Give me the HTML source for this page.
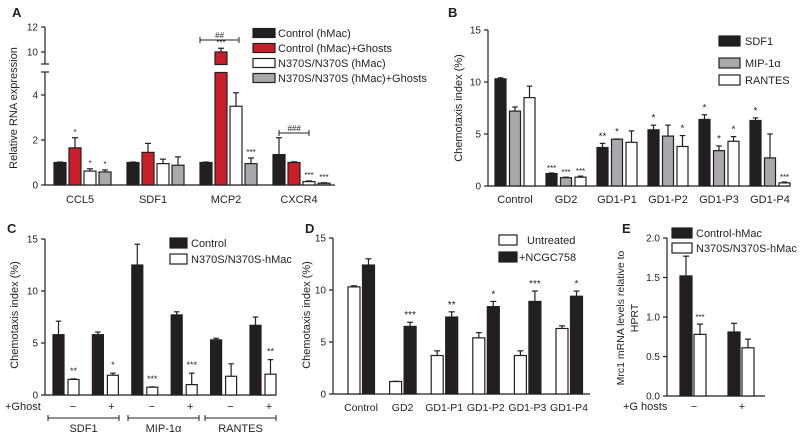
<!DOCTYPE html>
<html><head><meta charset="utf-8">
<style>
html,body{margin:0;padding:0;background:#fff;}
svg{display:block;font-family:"Liberation Sans",sans-serif;}
text{fill:#231f20;}
</style></head>
<body>
<svg id="fig" width="800" height="438" viewBox="0 0 800 438" xmlns="http://www.w3.org/2000/svg"></svg>
<script>
// ---------- Panel A data ----------
const aCats = ["CCL5","SDF1","MCP2","CXCR4"];
const aCtrl = [1, 1, 1, 1.35];
const aCtrlErr = [1.02, 1.02, 1.02, 2.1];
const aCtrlG = [1.65, 1.45, 10, 1.0];
const aCtrlGErr = [2.1, 1.85, 10.3, 1.03];
const aMut = [0.62, 0.95, 3.5, 0.15];
const aMutErr = [0.72, 1.15, 4.1, 0.18];
const aMutG = [0.58, 0.88, 0.95, 0.08];
const aMutGErr = [0.67, 1.25, 1.2, 0.1];
const aStars = [["","*","*","*"],["","","",""],["","***","","***"],["","","***","***"]];
const aTicks = [0,2,4,10,12];
// ---------- Panel B data ----------
const bCats = ["Control","GD2","GD1-P1","GD1-P2","GD1-P3","GD1-P4"];
const bSdf = [10.3,1.2,3.7,5.4,6.4,6.3];
const bSdfErr = [10.4,1.25,4.1,5.85,6.85,6.55];
const bMip = [7.2,0.8,4.5,4.8,3.4,2.7];
const bMipErr = [7.6,0.85,4.52,5.85,3.85,5.0];
const bRan = [8.5,0.85,4.2,3.8,4.3,0.3];
const bRanErr = [9.6,0.95,5.3,4.85,4.75,0.38];
const bStars = [["","",""],["***","***","***"],["**","*",""],["*","","*"],["*","*","*"],["*","","***"]];
const bTicks = [0,5,10,15];
// ---------- Panel C data ----------
const cCats = ["SDF1-","SDF1+","MIP-","MIP+","RANTES-","RANTES+"];
const cCtrl = [5.8,5.8,12.5,7.7,5.3,6.7];
const cCtrlErr = [7.1,6.05,14.5,8.0,5.45,7.5];
const cMut = [1.5,1.9,0.75,1.0,1.8,2.0];
const cMutErr = [1.55,2.1,0.78,2.1,3.0,3.4];
const cStars = ["**","*","***","***","","**"];
const cTicks = [0,5,10,15];
// ---------- Panel D data ----------
const dCats = ["Control","GD2","GD1-P1","GD1-P2","GD1-P3","GD1-P4"];
const dUnt = [10.3,1.2,3.7,5.4,3.7,6.3];
const dUntErr = [10.4,1.22,4.15,5.9,4.15,6.55];
const dTrt = [12.4,6.5,7.4,8.4,8.9,9.4];
const dTrtErr = [13.0,6.9,7.9,8.9,9.9,9.9];
const dStars = ["","***","**","*","***","*"];
const dTicks = [0,5,10,15];
// ---------- Panel E data ----------
const eCats = ["-","+"];
const eCtrl = [1.52,0.81];
const eCtrlErr = [1.77,0.92];
const eMut = [0.78,0.61];
const eMutErr = [0.91,0.72];
const eStars = [["","***"],["",""]];
const eTicks = ["0.0","0.5","1.0","1.5","2.0"];

const NS="http://www.w3.org/2000/svg";
const svg=document.getElementById('fig');
function mk(tag,attrs,parent){const e=document.createElementNS(NS,tag);for(const k in attrs)e.setAttribute(k,attrs[k]);(parent||svg).appendChild(e);return e;}
function txt(x,y,s,size,anchor,parent,extra){const t=mk('text',Object.assign({x:x,y:y,'font-size':size,'text-anchor':anchor||'middle'},extra||{}),parent);t.textContent=s;return t;}
function group(name){const g=mk('g',{});return g;}
function bar(g,x,w,yTop,yBot,fill,name){const r=mk('rect',{x:x,y:Math.min(yTop,yBot),width:w,height:Math.abs(yBot-yTop),fill:fill,stroke:'#231f20','stroke-width':1.2},g);return r;}
function err(g,x,w,yTop,yErr){const cx=x+w/2;mk('line',{x1:cx,x2:cx,y1:yTop,y2:yErr,stroke:'#231f20','stroke-width':1.2},g);mk('line',{x1:cx-w/4,x2:cx+w/4,y1:yErr,y2:yErr,stroke:'#231f20','stroke-width':1.2},g);}
function yaxis(g,x,yTop,yBot){mk('line',{x1:x,x2:x,y1:yTop,y2:yBot,stroke:'#231f20','stroke-width':1.2},g);}
function ytick(g,x,y,label,size){mk('line',{x1:x-4,x2:x,y1:y,y2:y,stroke:'#231f20','stroke-width':1.2},g);txt(x-7,y+3.5,label,size||10,'end',g);}
function legendBox(g,x,y,w,h,fill,label,tx,size){const r=mk('rect',{x:x,y:y-h/2,width:w,height:h,fill:fill,stroke:'#231f20','stroke-width':1.2},g);const t=txt(tx,y+4,label,size||11,'start',g);}
const RED="#c8202a",GRAY="#a7a9ac",BLK="#231f20",WHT="#fff";

// ================= Panel A =================
(function(){
const g=group('panel-a');
txt(12,17,'A',13,'start',g,{'font-weight':'bold'});
const yA=v=> v<=5 ? 185-v*22.5 : 52-(v-10)*12.5;
const ax=45;
yaxis(g,ax,72,185);yaxis(g,ax,27,64);
mk('line',{x1:ax-4,x2:ax+4,y1:64,y2:64,stroke:BLK,'stroke-width':1.2},g);
mk('line',{x1:ax-4,x2:ax+4,y1:72,y2:72,stroke:BLK,'stroke-width':1.2},g);
mk('line',{x1:ax,x2:335,y1:185,y2:185,stroke:BLK,'stroke-width':1.2},g);
aTicks.forEach(v=>ytick(g,ax,yA(v),String(v)));
const yl=txt(17,108,'Relative RNA expression',11,'middle',g,{transform:'rotate(-90 17 108)'});

const series=[[aCtrl,aCtrlErr,BLK],[aCtrlG,aCtrlGErr,RED],[aMut,aMutErr,WHT],[aMutG,aMutGErr,GRAY]];
const bw=12,step=15,gstep=73,x0=54;
aCats.forEach((c,i)=>{
  series.forEach((s,j)=>{
    const x=x0+i*gstep+j*step, v=s[0][i];
    if(v>5){bar(g,x,bw,yA(5),185,s[2],'bar-'+c.toLowerCase()+'-'+j);bar(g,x,bw,yA(v),yA(9),s[2],'bar-'+c.toLowerCase()+'-'+j+'-top');}
    else bar(g,x,bw,yA(v),185,s[2],'bar-'+c.toLowerCase()+'-'+j);
    err(g,x,bw,yA(v),yA(s[1][i]));
    if(aStars[i][j])txt(x+bw/2,yA(s[1][i])-3,aStars[i][j],8,'middle',g);
  });
  const l=txt(x0+i*gstep+26,203,c,11,'middle',g);
});
[[200,239,40,'##'],[279,309,133,'###']].forEach(b=>{
  mk('line',{x1:b[0],x2:b[1],y1:b[2],y2:b[2],stroke:BLK,'stroke-width':1},g);
  mk('line',{x1:b[0],x2:b[0],y1:b[2]-3,y2:b[2]+3,stroke:BLK,'stroke-width':1},g);
  mk('line',{x1:b[1],x2:b[1],y1:b[2]-3,y2:b[2]+3,stroke:BLK,'stroke-width':1},g);
  txt((b[0]+b[1])/2,b[2]-2,b[3],8,'middle',g,{'font-style':'italic'});
});
const lg=group('legend-a');
legendBox(lg,253,33,22,9,BLK,'Control (hMac)',278);
legendBox(lg,253,48,22,9,RED,'Control (hMac)+Ghosts',278);
legendBox(lg,253,63,22,9,WHT,'N370S/N370S (hMac)',278);
legendBox(lg,253,78,22,9,GRAY,'N370S/N370S (hMac)+Ghosts',278);
})();

// ================= Panel B =================
(function(){
const g=group('panel-b');
txt(448,17,'B',13,'start',g,{'font-weight':'bold'});
const ax=488, yB=v=>186-v*10.4;
yaxis(g,ax,yB(15),186);
mk('line',{x1:ax,x2:790,y1:186,y2:186,stroke:BLK,'stroke-width':1.2},g);
bTicks.forEach(v=>ytick(g,ax,yB(v),String(v)));
const yl=txt(462,108,'Chemotaxis index (%)',11,'middle',g,{transform:'rotate(-90 462 108)'});

const series=[[bSdf,bSdfErr,BLK],[bMip,bMipErr,GRAY],[bRan,bRanErr,WHT]];
const bw=11,step=14.5,gstep=51,x0=495;
bCats.forEach((c,i)=>{
  series.forEach((s,j)=>{
    const x=x0+i*gstep+j*step;
    bar(g,x,bw,yB(s[0][i]),186,s[2],'bar-'+c.toLowerCase()+'-'+j);
    err(g,x,bw,yB(s[0][i]),yB(s[1][i]));
    const st=bStars[i][j];
    if(st)txt(x+bw/2,yB(s[1][i])-(st.length>2?2:4),st,st.length>2?8:10,'middle',g);
  });
  const l=txt(x0+i*gstep+20,203,c,11,'middle',g);
});
const lg=group('legend-b');
legendBox(lg,719,41,21,10,BLK,'SDF1',745);
legendBox(lg,719,63,21,10,GRAY,'MIP-1α',745);
legendBox(lg,719,80,21,10,WHT,'RANTES',745);
})();

// ================= Panel C =================
(function(){
const g=group('panel-c');
txt(7,233,'C',13,'start',g,{'font-weight':'bold'});
const ax=45,yC=v=>395-v*10.4;
yaxis(g,ax,yC(15),395);
mk('line',{x1:ax,x2:275,y1:395,y2:395,stroke:BLK,'stroke-width':1.2},g);
cTicks.forEach(v=>ytick(g,ax,yC(v),String(v)));
const yl=txt(18,315,'Chemotaxis index (%)',11,'middle',g,{transform:'rotate(-90 18 315)'});

const bw=11,gstep=39.4,x0=53;
cCats.forEach((c,i)=>{
  const xb=x0+i*gstep, xw=xb+15;
  bar(g,xb,bw,yC(cCtrl[i]),395,BLK,'bar-control-'+c.toLowerCase());
  err(g,xb,bw,yC(cCtrl[i]),yC(cCtrlErr[i]));
  bar(g,xw,bw,yC(cMut[i]),395,WHT,'bar-mutant-'+c.toLowerCase());
  err(g,xw,bw,yC(cMut[i]),yC(cMutErr[i]));
  if(cStars[i])txt(xw+bw/2,yC(cMutErr[i])-5,cStars[i],9,'middle',g);
  txt(i%2?xw+4:xw+5,410,i%2?'+':'−',11,'middle',g);
});
txt(5,410,'+Ghost',11,'start',g);
[[48,119,'SDF1'],[128,199,'MIP-1α'],[205,276,'RANTES']].forEach(b=>{
  mk('line',{x1:b[0],x2:b[1],y1:418,y2:418,stroke:BLK,'stroke-width':1},g);
  mk('line',{x1:b[0],x2:b[0],y1:415,y2:421,stroke:BLK,'stroke-width':1},g);
  mk('line',{x1:b[1],x2:b[1],y1:415,y2:421,stroke:BLK,'stroke-width':1},g);
  txt((b[0]+b[1])/2,432,b[2],11,'middle',g);
});
const lg=group('legend-c');
legendBox(lg,170,243,17,10,BLK,'Control',191);
legendBox(lg,170,259,17,10,WHT,'N370S/N370S-hMac',191);
})();

// ================= Panel D =================
(function(){
const g=group('panel-d');
txt(305,233,'D',13,'start',g,{'font-weight':'bold'});
const ax=333,yD=v=>394-v*10.4;
yaxis(g,ax,yD(15),394);
mk('line',{x1:ax,x2:590,y1:394,y2:394,stroke:BLK,'stroke-width':1.2},g);
dTicks.forEach(v=>ytick(g,ax,yD(v),String(v)));
const yl=txt(310,315,'Chemotaxis index (%)',11,'middle',g,{transform:'rotate(-90 310 315)'});

const bw=12,gstep=41.6,x0=348;
dCats.forEach((c,i)=>{
  const xw=x0+i*gstep,xb=xw+14.5;
  bar(g,xw,bw,yD(dUnt[i]),394,WHT,'bar-untreated-'+c.toLowerCase());
  err(g,xw,bw,yD(dUnt[i]),yD(dUntErr[i]));
  bar(g,xb,bw,yD(dTrt[i]),394,BLK,'bar-ncgc758-'+c.toLowerCase());
  err(g,xb,bw,yD(dTrt[i]),yD(dTrtErr[i]));
  if(dStars[i])txt(xb+bw/2,yD(dTrtErr[i])-4,dStars[i],10,'middle',g);
  const l=txt(xw+13,411,c,10.5,'middle',g);
});
const lg=group('legend-d');
legendBox(lg,499,240,18,10,WHT,'Untreated',527);
legendBox(lg,499,257,18,10,BLK,'+NCGC758',519);
})();

// ================= Panel E =================
(function(){
const g=group('panel-e');
txt(622,233,'E',13,'start',g,{'font-weight':'bold'});
const ax=667,yE=v=>396-v*79;
yaxis(g,ax,yE(2),396);
mk('line',{x1:ax,x2:765,y1:396,y2:396,stroke:BLK,'stroke-width':1.2},g);
eTicks.forEach(v=>ytick(g,ax,yE(parseFloat(v)),v));
const yl=txt(624,318,'Mrc1 mRNA levels relative to',10.5,'middle',g,{transform:'rotate(-90 624 318)'});

txt(638,318,'HPRT',10.5,'middle',g,{transform:'rotate(-90 638 318)'});
const bw=12,gstep=48,x0=680;
eCats.forEach((c,i)=>{
  const xb=x0+i*gstep,xw=xb+14;
  bar(g,xb,bw,yE(eCtrl[i]),396,BLK,'bar-control-hmac-'+i);
  err(g,xb,bw,yE(eCtrl[i]),yE(eCtrlErr[i]));
  bar(g,xw,bw,yE(eMut[i]),396,WHT,'bar-mutant-hmac-'+i);
  err(g,xw,bw,yE(eMut[i]),yE(eMutErr[i]));
  if(eStars[i][1])txt(xw+bw/2,yE(eMutErr[i])-4,eStars[i][1],8,'middle',g);
  txt(xb+14,410,c==='-'?'−':'+',11,'middle',g);
});
txt(623,410,'+G hosts',11,'start',g);
const lg=group('legend-e');
legendBox(lg,672,233,20,10,BLK,'Control-hMac',696);
legendBox(lg,672,248,20,10,WHT,'N370S/N370S-hMac',696);
})();
</script>
</body></html>
